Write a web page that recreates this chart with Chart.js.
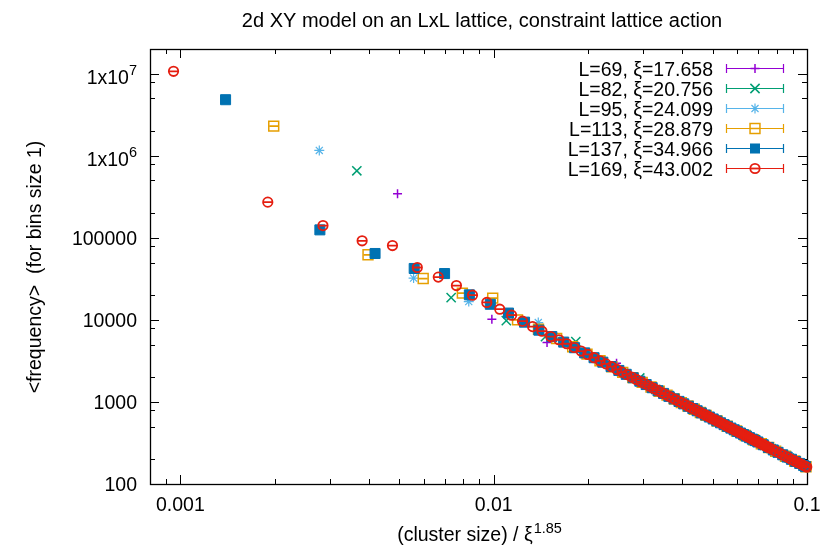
<!DOCTYPE html>
<html>
<head>
<meta charset="utf-8">
<script src="https://cdn.jsdelivr.net/npm/chart.js@4.4.1/dist/chart.umd.min.js"></script>
<style>
  html, body { margin: 0; padding: 0; background: #ffffff; }
  #wrap { width: 827px; height: 549px; }
</style>
</head>
<body>
<div id="wrap"><canvas id="chart" width="827" height="549"></canvas></div>
<script>
// Series names
const seriesLabels = [
  'L=69, ξ=17.658',
  'L=82, ξ=20.756',
  'L=95, ξ=24.099',
  'L=113, ξ=28.879',
  'L=137, ξ=34.966',
  'L=169, ξ=43.002'
];

// (cluster size) / xi^1.85 and <frequency>
const x69 = [0.004933, 0.009867, 0.0148, 0.019734, 0.024667, 0.0296, 0.034534, 0.039467, 0.044401, 0.049334, 0.054267, 0.059201, 0.064134, 0.069068, 0.074001, 0.078934, 0.083868, 0.088801, 0.093735, 0.098668];
const y69 = [344000, 10200, 5290, 3870, 2965, 1750, 1290, 993, 788, 641, 531, 448, 383, 331, 289, 255, 226, 202, 182, 164];

const x82 = [0.003658, 0.007315, 0.010973, 0.01463, 0.018288, 0.021946, 0.025603, 0.029261, 0.032918, 0.036576, 0.040234, 0.043891, 0.047549, 0.051206, 0.054864, 0.058522, 0.062179, 0.065837, 0.069494, 0.073152, 0.07681, 0.080467, 0.084125, 0.087782, 0.09144, 0.095098, 0.098755];
const y82 = [656000, 18700, 9800, 6260, 5440, 3140, 2320, 1960, 1420, 1150, 956, 806, 689, 596, 520, 458, 407, 363, 327, 296, 269, 245, 225, 207, 191, 177, 164];

const x95 = [0.002776, 0.005551, 0.008327, 0.011102, 0.013878, 0.016653, 0.019429, 0.022204, 0.02498, 0.027755, 0.030531, 0.033306, 0.036082, 0.038857, 0.041633, 0.044408, 0.047184, 0.049959, 0.052735, 0.05551, 0.061061, 0.066612, 0.072163, 0.077714, 0.083265, 0.088816, 0.094367, 0.099918];
const y95 = [1160000, 32300, 16700, 12000, 9270, 5400, 4000, 3070, 2440, 1980, 1640, 1390, 1180, 1020, 894, 788, 699, 625, 562, 508, 421, 355, 304, 262, 229, 202, 179, 160];

const x113 = [0.001986, 0.003971, 0.005957, 0.007943, 0.009929, 0.011914, 0.0139, 0.015886, 0.017871, 0.019857, 0.021843, 0.023828, 0.025814, 0.0278, 0.029786, 0.031771, 0.033757, 0.035743, 0.037728, 0.039714, 0.0417, 0.043685, 0.045671, 0.047657, 0.051628, 0.0556, 0.059571, 0.063542, 0.067514, 0.071485, 0.075457, 0.079428, 0.085385, 0.091342, 0.099285];
const y113 = [2300000, 62100, 31900, 21200, 18400, 10000, 7700, 5930, 4710, 3830, 3170, 2680, 2290, 1980, 1730, 1520, 1350, 1210, 1085, 981, 891, 814, 745, 686, 586, 506, 442, 390, 346, 309, 278, 251, 218, 191, 162];

const x137 = [0.001394, 0.002788, 0.004182, 0.005576, 0.00697, 0.008364, 0.009757, 0.011151, 0.012545, 0.013939, 0.015333, 0.016727, 0.018121, 0.019515, 0.020909, 0.022303, 0.023697, 0.025091, 0.026484, 0.027878, 0.029272, 0.030666, 0.03206, 0.033454, 0.034848, 0.036242, 0.037636, 0.03903, 0.040424, 0.041818, 0.043212, 0.044605, 0.045999, 0.047393, 0.048787, 0.050181, 0.051575, 0.052969, 0.054363, 0.055757, 0.057151, 0.058545, 0.059939, 0.061332, 0.062726, 0.06412, 0.065514, 0.066908, 0.068302, 0.069696, 0.072484, 0.075272, 0.078059, 0.080847, 0.083635, 0.086423, 0.089211, 0.091999, 0.094787, 0.097574, 0.098968];
const y137 = [4820000, 125000, 64400, 42300, 36700, 20200, 15500, 12100, 9380, 7490, 6260, 5360, 4580, 3960, 3460, 3050, 2700, 2420, 2170, 1970, 1790, 1630, 1490, 1370, 1270, 1170, 1090, 1015, 947, 886, 831, 781, 735, 693, 655, 620, 587, 557, 529, 504, 480, 458, 437, 418, 400, 383, 367, 352, 338, 325, 301, 279, 260, 243, 227, 213, 200, 188, 178, 168, 163];

const x169 = [0.000951, 0.001901, 0.002852, 0.003803, 0.004753, 0.005704, 0.006655, 0.007605, 0.008556, 0.009507, 0.010457, 0.011408, 0.012359, 0.013309, 0.01426, 0.015211, 0.016161, 0.017112, 0.018063, 0.019013, 0.019964, 0.020915, 0.021865, 0.022816, 0.023767, 0.024717, 0.025668, 0.026619, 0.027569, 0.02852, 0.029471, 0.030421, 0.031372, 0.032323, 0.033273, 0.034224, 0.035175, 0.036125, 0.037076, 0.038027, 0.038977, 0.039928, 0.040878, 0.041829, 0.04278, 0.043731, 0.044681, 0.045632, 0.046582, 0.047533, 0.048484, 0.049434, 0.050385, 0.051336, 0.052286, 0.053237, 0.054188, 0.055139, 0.056089, 0.05704, 0.05799, 0.058941, 0.059892, 0.060842, 0.061793, 0.062744, 0.063694, 0.064645, 0.065596, 0.066546, 0.067497, 0.068448, 0.069398, 0.070349, 0.0713, 0.07225, 0.073201, 0.074151, 0.075102, 0.076053, 0.077954, 0.079856, 0.081757, 0.083658, 0.08556, 0.087461, 0.089362, 0.091263, 0.093165, 0.095066, 0.096967, 0.098869, 0.099819];
const y169 = [10700000, 272000, 141000, 92000, 80500, 43500, 33200, 26200, 20000, 16300, 13500, 11400, 9640, 8280, 7280, 6260, 5730, 5120, 4610, 4170, 3790, 3460, 3170, 2910, 2690, 2490, 2310, 2150, 2010, 1880, 1760, 1660, 1560, 1470, 1390, 1310, 1245, 1180, 1120, 1070, 1017, 970, 927, 886, 847, 812, 778, 747, 717, 689, 663, 638, 615, 592, 572, 552, 533, 515, 498, 482, 466, 452, 438, 424, 412, 400, 388, 377, 366, 356, 346, 337, 328, 319, 311, 303, 295, 288, 281, 274, 261, 249, 238, 227, 217, 208, 199, 191, 184, 177, 170, 164, 161];

// Axis ticks
const xMajorTicks = [0.001, 0.01, 0.1];
const xTickLabels = ['0.001', '0.01', '0.1'];
const xMinorTicks = [0.0009, 0.002, 0.003, 0.004, 0.005, 0.006, 0.007, 0.008, 0.009,
  0.02, 0.03, 0.04, 0.05, 0.06, 0.07, 0.08, 0.09];
const yMajorTicks = [100, 1000, 10000, 100000, 1000000, 10000000];
const yTickLabels = ['100', '1000', '10000', '100000', '1x10^6', '1x10^7'];
const yMinorTicks = [200, 500, 800, 2000, 5000, 8000, 20000, 50000, 80000,
  200000, 500000, 800000, 2000000, 5000000, 8000000];

// gnuplot default colours and point types
const COLORS = ['#9400d3', '#009e73', '#56b4e9', '#e69f00', '#0072b2', '#e51e10'];
const MARKERS = [
  { style: 'cross', radius: 4.5, width: 1.5, filled: false, cap: 0 },
  { style: 'crossRot', radius: 6.5, width: 1.5, filled: false, cap: 0 },
  { style: 'star', radius: 5, width: 1.2, filled: false, cap: 0 },
  { style: 'rect', radius: 7, width: 1.5, filled: false, cap: 4.5 },
  { style: 'rect', radius: 7.1, width: 1, filled: true, cap: 0 },
  { style: 'circle', radius: 4.7, width: 1.8, filled: false, cap: 4.7 }
];

const FONT = '19.5px "Liberation Sans", Arial, sans-serif';
const SUP_FONT = '14.5px "Liberation Sans", Arial, sans-serif';

const xs = [x69, x82, x95, x113, x137, x169];
const ys = [y69, y82, y95, y113, y137, y169];

const datasets = xs.map((xv, i) => ({
  label: seriesLabels[i],
  data: xv.map((v, j) => ({ x: v, y: ys[i][j] })),
  pointStyle: MARKERS[i].style,
  pointRadius: MARKERS[i].radius,
  borderWidth: MARKERS[i].width,
  borderColor: COLORS[i],
  backgroundColor: MARKERS[i].filled ? COLORS[i] : 'rgba(0,0,0,0)',
  showLine: false,
  clip: false,
  order: 6 - i // later series on top, like gnuplot
}));

// draw a point marker by hand (used for the key)
function drawMarker(ctx, m, color, cx, cy) {
  const r = m.radius;
  ctx.save();
  ctx.strokeStyle = color;
  ctx.fillStyle = color;
  ctx.lineWidth = m.width;
  ctx.beginPath();
  if (m.style === 'cross' || m.style === 'star') {
    ctx.moveTo(cx - r, cy); ctx.lineTo(cx + r, cy);
    ctx.moveTo(cx, cy - r); ctx.lineTo(cx, cy + r);
  }
  if (m.style === 'crossRot' || m.style === 'star') {
    const d = r * Math.SQRT1_2;
    ctx.moveTo(cx - d, cy - d); ctx.lineTo(cx + d, cy + d);
    ctx.moveTo(cx - d, cy + d); ctx.lineTo(cx + d, cy - d);
  }
  if (m.style === 'rect') {
    const s = r * Math.SQRT1_2;
    ctx.rect(cx - s, cy - s, 2 * s, 2 * s);
  }
  if (m.style === 'circle') {
    ctx.arc(cx, cy, r, 0, Math.PI * 2);
  }
  if (m.filled) ctx.fill(); else ctx.stroke();
  if (m.cap) {
    ctx.beginPath();
    ctx.moveTo(cx - m.cap, cy); ctx.lineTo(cx + m.cap, cy);
    ctx.stroke();
  }
  ctx.restore();
}

// label with optional ^superscript, right aligned at x
function drawYLabel(ctx, text, x, y) {
  const parts = text.split('^');
  ctx.textAlign = 'left';
  ctx.textBaseline = 'alphabetic';
  if (parts.length === 1) {
    ctx.font = FONT;
    ctx.fillText(text, x - ctx.measureText(text).width, y + 7);
    return;
  }
  ctx.font = SUP_FONT;
  const supW = ctx.measureText(parts[1]).width;
  ctx.fillText(parts[1], x - supW, y + 1.5);
  ctx.font = FONT;
  const baseW = ctx.measureText(parts[0]).width;
  ctx.fillText(parts[0], x - supW - baseW, y + 10);
}

const gnuplotLook = {
  id: 'gnuplotLook',
  beforeDatasetsDraw(chart) {
    const { ctx, chartArea: a, scales: { x, y } } = chart;
    ctx.save();
    ctx.strokeStyle = '#000000';
    ctx.lineWidth = 1;
    ctx.beginPath();
    const xTick = (v, len) => {
      const px = Math.round(x.getPixelForValue(v)) + 0.5;
      ctx.moveTo(px, a.bottom); ctx.lineTo(px, a.bottom - len);
      ctx.moveTo(px, a.top); ctx.lineTo(px, a.top + len);
    };
    const yTick = (v, len) => {
      const py = Math.round(y.getPixelForValue(v)) + 0.5;
      ctx.moveTo(a.left, py); ctx.lineTo(a.left + len, py);
      ctx.moveTo(a.right, py); ctx.lineTo(a.right - len, py);
    };
    xMajorTicks.forEach(v => xTick(v, 9));
    xMinorTicks.forEach(v => xTick(v, 5));
    yMajorTicks.forEach(v => yTick(v, 9));
    yMinorTicks.forEach(v => yTick(v, 5));
    ctx.stroke();
    ctx.lineWidth = 1.3;
    ctx.strokeRect(Math.round(a.left) + 0.5, Math.round(a.top) + 0.5,
      Math.round(a.right - a.left), Math.round(a.bottom - a.top));

    // tick labels
    ctx.fillStyle = '#000000';
    ctx.font = FONT;
    ctx.textAlign = 'center';
    ctx.textBaseline = 'alphabetic';
    xMajorTicks.forEach((v, i) => {
      ctx.fillText(xTickLabels[i], x.getPixelForValue(v), 511);
    });
    yMajorTicks.forEach((v, i) => {
      drawYLabel(ctx, yTickLabels[i], 137, y.getPixelForValue(v));
    });

    // title
    ctx.font = '20px "Liberation Sans", Arial, sans-serif';
    ctx.textAlign = 'center';
    ctx.fillText('2d XY model on an LxL lattice, constraint lattice action', 482, 27);

    // x axis title with superscript
    const xMain = '(cluster size) / ξ';
    const xSup = '1.85';
    ctx.font = FONT;
    const mainW = ctx.measureText(xMain).width;
    ctx.font = SUP_FONT;
    const supW = ctx.measureText(xSup).width;
    const startX = 479 - (mainW + supW) / 2;
    ctx.textAlign = 'left';
    ctx.font = FONT;
    ctx.fillText(xMain, startX, 541);
    ctx.font = SUP_FONT;
    ctx.fillText(xSup, startX + mainW + 1, 533);

    // y axis title
    ctx.save();
    ctx.translate(41, 267);
    ctx.rotate(-Math.PI / 2);
    ctx.font = FONT;
    ctx.textAlign = 'center';
    ctx.fillText('<frequency>  (for bins size 1)', 0, 0);
    ctx.restore();
    ctx.restore();
  },
  afterDatasetDraw(chart, args) {
    // tiny y error bars collapse into a horizontal cap through the marker
    const i = args.index;
    const cap = MARKERS[i].cap;
    if (!cap) return;
    const ctx = chart.ctx;
    ctx.save();
    ctx.strokeStyle = COLORS[i];
    ctx.lineWidth = 1.8;
    ctx.beginPath();
    args.meta.data.forEach(pt => {
      ctx.moveTo(pt.x - cap, pt.y);
      ctx.lineTo(pt.x + cap, pt.y);
    });
    ctx.stroke();
    ctx.restore();
  },
  afterDraw(chart) {
    // key, top right, gnuplot style
    const ctx = chart.ctx;
    ctx.save();
    seriesLabels.forEach((label, i) => {
      const ry = 68.5 + i * 20;
      ctx.fillStyle = '#000000';
      ctx.font = FONT;
      ctx.textAlign = 'right';
      ctx.textBaseline = 'alphabetic';
      ctx.fillText(label, 713, ry + 7);
      ctx.strokeStyle = COLORS[i];
      ctx.lineWidth = 1.2;
      ctx.beginPath();
      ctx.moveTo(726, ry); ctx.lineTo(784, ry);
      ctx.moveTo(726.5, ry - 4.5); ctx.lineTo(726.5, ry + 4.5);
      ctx.moveTo(783.5, ry - 4.5); ctx.lineTo(783.5, ry + 4.5);
      ctx.stroke();
      drawMarker(ctx, MARKERS[i], COLORS[i], 755, ry);
    });
    ctx.restore();
  }
};

const ctx = document.getElementById('chart').getContext('2d');
new Chart(ctx, {
  type: 'scatter',
  data: { datasets: datasets },
  options: {
    responsive: false,
    animation: false,
    events: [],
    devicePixelRatio: 1,
    layout: { padding: { left: 150, top: 49, right: 20, bottom: 65 } },
    scales: {
      x: { type: 'logarithmic', min: 0.0008, max: 0.1, display: false },
      y: { type: 'logarithmic', min: 100, max: 20000000, display: false }
    },
    plugins: {
      legend: { display: false },
      tooltip: { enabled: false },
      title: { display: false }
    }
  },
  plugins: [gnuplotLook]
});
</script>
</body>
</html>
